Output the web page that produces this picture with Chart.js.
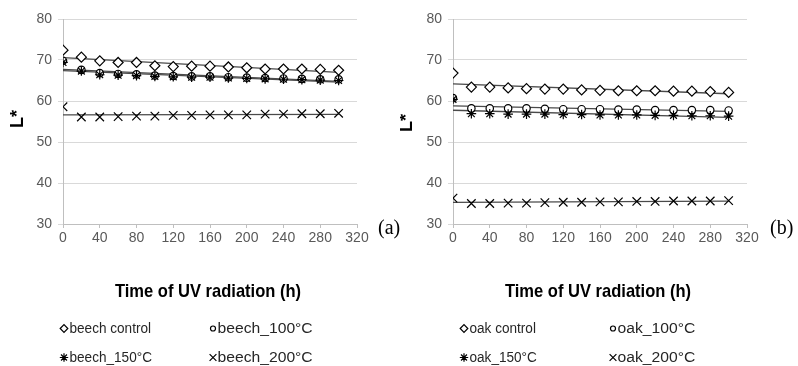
<!DOCTYPE html>
<html>
<head>
<meta charset="utf-8">
<script src="https://cdn.jsdelivr.net/npm/chart.js@4.4.1/dist/chart.umd.min.js"></script>
<style>
  html, body { margin: 0; padding: 0; background: #fff; }
  .panel { position: absolute; top: 0; height: 366px; }
  #left { left: 0; width: 400px; }
  #right { left: 400px; width: 398px; }
</style>
</head>
<body>
<div class="panel" id="left"><canvas id="chartA"></canvas></div>
<div class="panel" id="right"><canvas id="chartB"></canvas></div>
<script>
// time of UV radiation (h)
const hours = [0, 20, 40, 60, 80, 100, 120, 140, 160, 180, 200, 220, 240, 260, 280, 300];
const xTickValues = [0, 40, 80, 120, 160, 200, 240, 280, 320];
const yTickValues = [30, 40, 50, 60, 70, 80];

// beech (a)
const beechNames = ['beech control', 'beech_100°C', 'beech_150°C', 'beech_200°C'];
const beechControl = [72.4, 70.7, 69.8, 69.4, 69.4, 68.6, 68.4, 68.5, 68.5, 68.3, 68.1, 67.8, 67.8, 67.8, 67.7, 67.5];
const beech100 = [69.8, 67.6, 66.8, 66.6, 66.5, 66.2, 66.1, 66.0, 66.0, 65.8, 65.7, 65.6, 65.5, 65.4, 65.3, 65.3];
const beech150 = [69.4, 67.3, 66.4, 66.3, 66.2, 66.0, 65.9, 65.8, 65.8, 65.6, 65.5, 65.4, 65.3, 65.2, 65.1, 65.0];
const beech200 = [58.6, 56.1, 56.1, 56.2, 56.3, 56.3, 56.5, 56.5, 56.6, 56.6, 56.6, 56.8, 56.8, 56.9, 56.9, 57.0];

// oak (b)
const oakNames = ['oak control', 'oak_100°C', 'oak_150°C', 'oak_200°C'];
const oakControl = [66.8, 63.4, 63.4, 63.2, 63.0, 62.9, 62.9, 62.7, 62.6, 62.5, 62.5, 62.5, 62.4, 62.4, 62.3, 62.1];
const oak100 = [60.7, 58.2, 58.2, 58.2, 58.2, 58.1, 58.0, 58.0, 58.0, 57.9, 57.9, 57.8, 57.8, 57.8, 57.8, 57.7];
const oak150 = [60.4, 56.9, 56.9, 56.8, 56.8, 56.8, 56.7, 56.7, 56.6, 56.6, 56.6, 56.5, 56.5, 56.4, 56.4, 56.3];
const oak200 = [36.3, 35.0, 35.0, 35.1, 35.1, 35.2, 35.3, 35.3, 35.4, 35.4, 35.5, 35.5, 35.6, 35.6, 35.6, 35.7];

const xTitle = 'Time of UV radiation (h)';
const yTitle = 'L*';

const markers = [
    { pointStyle: 'rectRot', radius: 5, legendRadius: 3.8 },
    { pointStyle: 'circle', radius: 3.7, legendRadius: 2.5 },
    { pointStyle: 'star', radius: 4.8, legendRadius: 4.2 },
    { pointStyle: 'crossRot', radius: 6, legendRadius: 4.8 }
];
const sansFont = "'Liberation Sans', Arial, sans-serif";

// least squares trend line, like the spreadsheet's linear trendline
function trend(xs, ys) {
    const n = xs.length;
    const mx = xs.reduce((a, b) => a + b, 0) / n;
    const my = ys.reduce((a, b) => a + b, 0) / n;
    let sxy = 0, sxx = 0;
    for (let i = 0; i < n; i++) {
        sxy += (xs[i] - mx) * (ys[i] - my);
        sxx += (xs[i] - mx) * (xs[i] - mx);
    }
    const b = sxy / sxx, a = my - b * mx;
    return [{ x: xs[0], y: a + b * xs[0] }, { x: xs[n - 1], y: a + b * xs[n - 1] }];
}

function drawScaledText(ctx, text, x, y, sx) {
    ctx.save();
    ctx.translate(x, y);
    ctx.scale(sx, 1);
    ctx.fillText(text, 0, 0);
    ctx.restore();
}

function buildPanel(canvasId, names, series, opts) {
    const datasets = [];
    series.forEach((vals, i) => {
        datasets.push({
            type: 'line',
            data: trend(hours, vals),
            borderColor: '#4a4a4a',
            borderWidth: 1.3,
            pointRadius: 0,
            fill: false,
            order: 10
        });
        datasets.push({
            type: 'scatter',
            label: names[i],
            data: hours.map((h, k) => ({ x: h, y: vals[k] })),
            pointStyle: markers[i].pointStyle,
            pointRadius: markers[i].radius,
            pointBorderColor: '#000',
            pointBackgroundColor: '#fff',
            pointBorderWidth: 1.2,
            showLine: false,
            order: 3 - i
        });
    });

    const overlay = {
        id: 'overlay',
        afterDraw(chart) {
            const ctx = chart.ctx;
            const area = chart.chartArea;
            ctx.save();
            ctx.fillStyle = '#000';

            // y title, rotated
            ctx.save();
            ctx.translate(opts.yTitleX, opts.yTitleY);
            ctx.rotate(-Math.PI / 2);
            ctx.font = 'bold 18px ' + sansFont;
            ctx.textAlign = 'center';
            ctx.textBaseline = 'alphabetic';
            ctx.fillText(yTitle, 0, 0);
            ctx.restore();

            // x title
            ctx.font = 'bold 19px ' + sansFont;
            ctx.textAlign = 'left';
            ctx.textBaseline = 'alphabetic';
            const tw = ctx.measureText(xTitle).width * 0.87;
            drawScaledText(ctx, xTitle, (area.left + area.right) / 2 - 2 - tw / 2, 297, 0.87);

            // panel letter
            ctx.font = "20px 'Liberation Serif', 'Times New Roman', serif";
            ctx.fillText(opts.letter, opts.letterX, 234);

            // legend, 2 x 2
            const cols = [{ mx: 64, tx: 69.5, sx: 0.97 }, { mx: 213, tx: 217.5, sx: 1.12 }];
            const rows = [333, 362];
            ctx.font = '14px ' + sansFont;
            names.forEach((name, i) => {
                const c = cols[i % 2], by = rows[Math.floor(i / 2)];
                ctx.strokeStyle = '#000';
                ctx.fillStyle = '#fff';
                ctx.lineWidth = 1.2;
                Chart.helpers.drawPoint(ctx, {
                    pointStyle: markers[i].pointStyle,
                    radius: markers[i].legendRadius,
                    rotation: 0,
                    borderWidth: 1.2
                }, c.mx, by - 4.5);
                ctx.fillStyle = '#262626';
                drawScaledText(ctx, name, c.tx, by, c.sx);
            });
            ctx.restore();
        }
    };

    return new Chart(document.getElementById(canvasId), {
        data: { datasets },
        options: {
            responsive: true,
            maintainAspectRatio: false,
            animation: false,
            layout: { padding: { left: 0, right: opts.padRight, top: 19, bottom: 0 } },
            plugins: { legend: { display: false }, tooltip: { enabled: false } },
            scales: {
                x: {
                    type: 'linear',
                    min: 0, max: 320,
                    afterBuildTicks: s => { s.ticks = xTickValues.map(v => ({ value: v })); },
                    afterFit: s => { s.height = 142; },
                    ticks: {
                        color: '#595959', font: { family: sansFont, size: 14 },
                        padding: 2, maxRotation: 0, autoSkip: false
                    },
                    grid: { drawOnChartArea: false, tickLength: 4, color: '#bfbfbf' },
                    border: { color: '#bfbfbf' }
                },
                y: {
                    type: 'linear',
                    min: 30, max: 80,
                    afterBuildTicks: s => { s.ticks = yTickValues.map(v => ({ value: v })); },
                    afterFit: s => { s.width = opts.yWidth; },
                    ticks: { color: '#595959', font: { family: sansFont, size: 14 }, padding: 6 },
                    grid: { color: '#d9d9d9', tickLength: 5 },
                    border: { color: '#bfbfbf' }
                }
            }
        },
        plugins: [overlay]
    });
}

buildPanel('chartA', beechNames, [beechControl, beech100, beech150, beech200],
    { yWidth: 63, padRight: 43, letter: '(a)', letterX: 378, yTitleX: 23, yTitleY: 119 });
buildPanel('chartB', oakNames, [oakControl, oak100, oak150, oak200],
    { yWidth: 53, padRight: 51, letter: '(b)', letterX: 370, yTitleX: 12, yTitleY: 123 });
</script>
</body>
</html>
